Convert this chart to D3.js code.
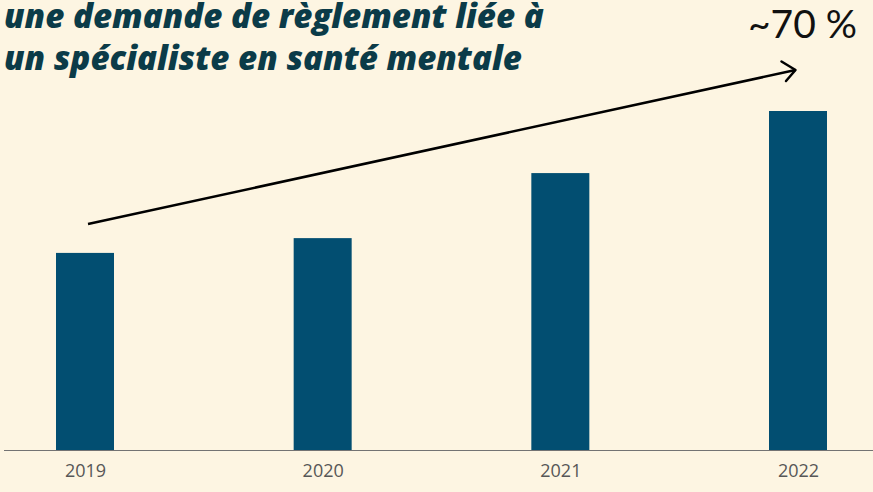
<html>

<head>
    <meta charset="utf-8">
    <title>Santé mentale</title>
    <script src='https://d3js.org/d3.v7.min.js'></script>
    <style>
        body {
            margin: 0;
            background: #fdf5e2;
        }
        .title {
            font-family: "Open Sans", sans-serif;
            font-style: italic;
            font-weight: 800;
            font-size: 29px;
            fill: #0b3b48;
        }
        .tick text {
            font-family: "Open Sans", sans-serif;
            font-size: 18px;
            fill: #575757;
        }
    </style>
</head>

<body>
    <svg id="chart"></svg>
    <script>
        var years = ["2019", "2020", "2021", "2022"];
        var claims = [100, 107.5, 140.5, 172];
        var titleLines = ["une demande de règlement liée à", "un spécialiste en santé mentale"];
        var growthLabel = "~70 %";

        var width = 873, height = 492, baseline = 450, barWidth = 58;
        var svg = d3.select("#chart").attr("width", width).attr("height", height);

        svg.append("rect").attr("width", width).attr("height", height).attr("fill", "#fdf5e2");

        var x = d3.scalePoint().domain(years).range([85, 798]);
        var y = d3.scaleLinear().domain([0, 172]).range([baseline, 111]);

        svg.selectAll("rect.bar")
            .data(years)
            .enter()
            .append("rect")
            .attr("class", "bar")
            .attr("x", function (d) { return x(d) - barWidth / 2; })
            .attr("y", function (d, i) { return y(claims[i]); })
            .attr("width", barWidth)
            .attr("height", function (d, i) { return baseline - y(claims[i]); })
            .attr("fill", "#024e71");

        // axis: baseline + year labels
        var axis = svg.append("g")
            .attr("transform", "translate(0," + baseline + ")")
            .call(d3.axisBottom(x).tickSize(0).tickPadding(14));
        axis.select(".domain").remove();
        svg.append("line")
            .attr("x1", 4).attr("x2", width)
            .attr("y1", baseline + 0.5).attr("y2", baseline + 0.5)
            .attr("stroke", "#737373").attr("stroke-width", 1.2);

        // title
        var title = svg.selectAll("text.title")
            .data(titleLines)
            .enter()
            .append("text")
            .attr("class", "title")
            .attr("x", 4)
            .attr("y", function (d, i) { return 28 + i * 42; })
            .text(function (d) { return d; });
        // fit the first line to about 540px wide
        var w = title.node().getComputedTextLength();
        title.style("font-size", (29 * 540 / w) + "px");

        // growth arrow
        var x0 = x("2019") + 3, y0 = 224, x1 = 795.5, y1 = 70;
        svg.append("line")
            .attr("x1", x0).attr("y1", y0).attr("x2", x1).attr("y2", y1)
            .attr("stroke", "#000").attr("stroke-width", 2.5);
        svg.append("path")
            .attr("d", "M" + 781.5 + "," + 61.5 + "L" + x1 + "," + y1 + "L" + 786 + "," + 81)
            .attr("fill", "none").attr("stroke", "#000").attr("stroke-width", 2.5)
            .attr("stroke-linecap", "round").attr("stroke-linejoin", "round");

        svg.append("text")
            .attr("x", 857)
            .attr("y", 38)
            .attr("text-anchor", "end")
            .style("font-family", "Lato, sans-serif")
            .style("font-size", "39px")
            .style("fill", "#111")
            .text(growthLabel);
    </script>
</body>

</html>
